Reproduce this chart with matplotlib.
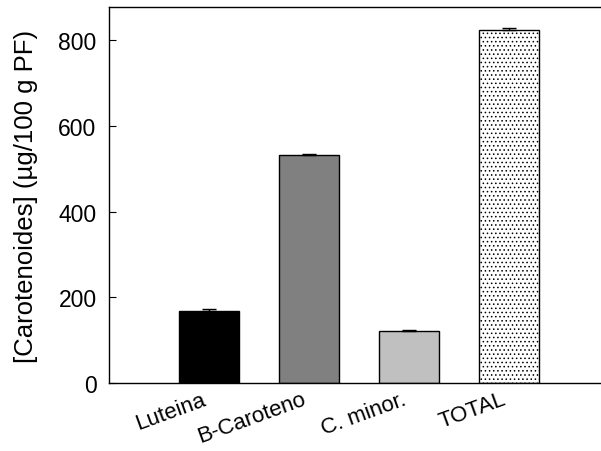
import matplotlib.pyplot as plt
import matplotlib as mpl

categories = ["Luteina", "B-Caroteno", "C. minor.", "TOTAL"]
values = [168, 532, 122, 823]
errors = [4, 2, 2, 4]
colors = ["black", "#808080", "#c0c0c0", "white"]
hatches = ["", "", "", "...."]

plt.rcParams['font.family'] = ['Liberation Sans', 'DejaVu Sans']
mpl.rcParams['hatch.color'] = '#777777'
mpl.rcParams['hatch.linewidth'] = 0.6

fig = plt.figure(figsize=(6.01, 4.52), dpi=100)
ax = fig.add_axes([109 / 601, 68 / 452, 500 / 601, 376 / 452])

x = [1, 2, 3, 4]
for xi, v, e, c, h in zip(x, values, errors, colors, hatches):
    ax.bar(xi, v, width=0.6, color=c, edgecolor="black", linewidth=1, hatch=h, zorder=2)
    ax.errorbar(xi, v, yerr=[[0], [e]], color="black", capsize=5, elinewidth=1,
                capthick=1, zorder=3)

ax.set_xlim(0, 5)
ax.set_ylim(0, 877)
ax.set_yticks([0, 200, 400, 600, 800])
ax.set_xticks(x)
ax.set_xticklabels(categories, rotation=20, ha='right', fontsize=16)
ax.tick_params(axis='y', direction='in', labelsize=16.5, length=5, pad=9)
ax.tick_params(axis='x', direction='in', length=3, pad=4)
ax.set_ylabel("[Carotenoides] (µg/100 g PF)", fontsize=18.5)
ax.yaxis.set_label_coords(-(109 - 38) / 500, 0.5)
for s in ax.spines.values():
    s.set_linewidth(1)

fig.savefig("out.png", dpi=100)
